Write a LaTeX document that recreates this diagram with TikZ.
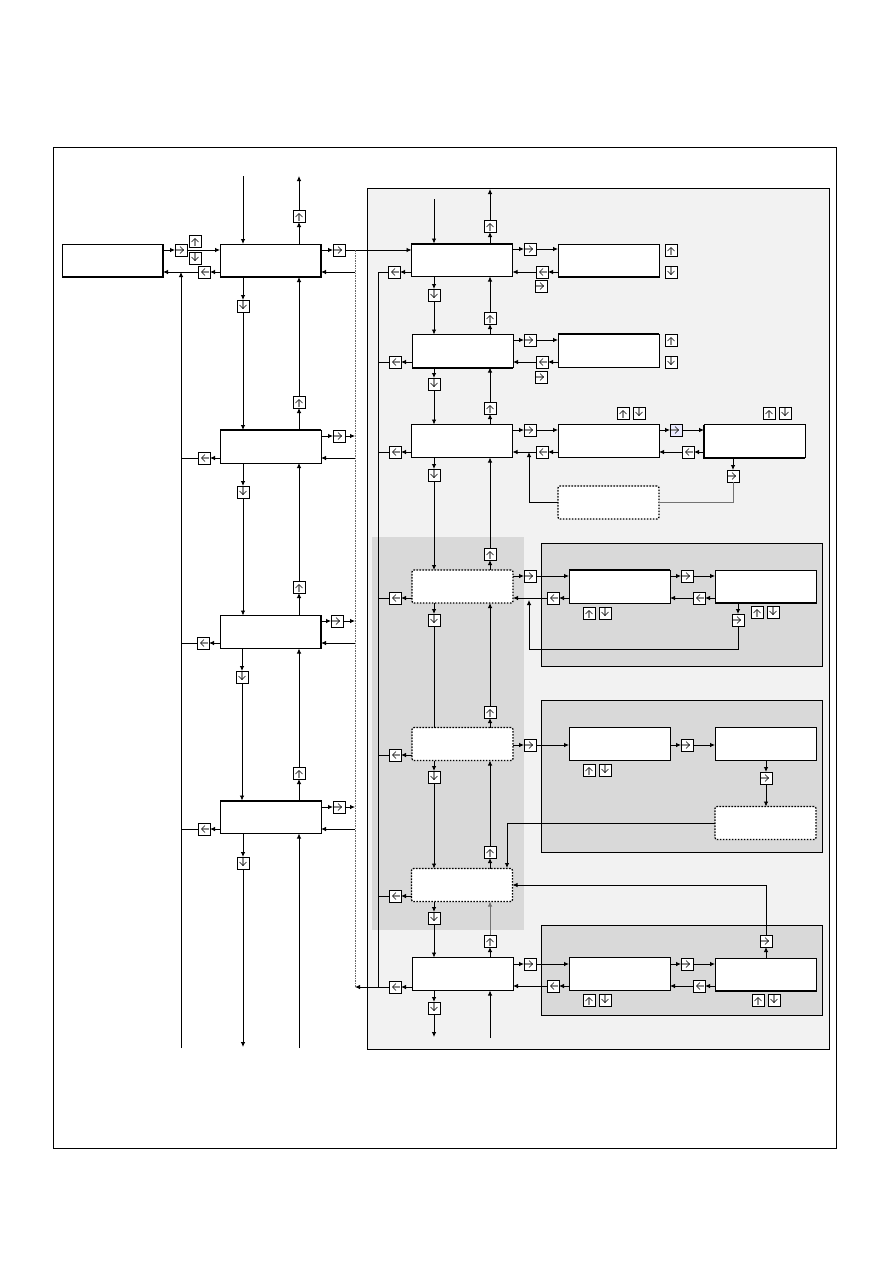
\documentclass[tikz,border=0pt]{standalone}
\usetikzlibrary{arrows.meta}
\begin{document}
\begin{tikzpicture}[x=1pt,y=-1pt,
 box/.style={draw, fill=white, line width=0.8pt, minimum width=101pt, minimum height=33pt, inner sep=0pt, outer sep=0pt},
 dbox/.style={box, dash pattern=on 1.6pt off 1.4pt, rounded corners=2pt, line width=1.3pt},
 key/.style={draw, fill=white, line width=0.7pt, minimum size=12pt, inner sep=0pt, outer sep=0pt},
 kr/.style={key, path picture={
   \draw[black!45,line width=1.1pt] ([xshift=-5pt]path picture bounding box.center) -- ([xshift=2.5pt]path picture bounding box.center);
   \draw[line width=0.6pt] ([xshift=-1pt,yshift=3.5pt]path picture bounding box.center) -- ([xshift=2.5pt]path picture bounding box.center) -- ([xshift=-1pt,yshift=-3.5pt]path picture bounding box.center);}},
 kl/.style={key, path picture={
   \draw[black!45,line width=1.1pt] ([xshift=5pt]path picture bounding box.center) -- ([xshift=-2.5pt]path picture bounding box.center);
   \draw[line width=0.6pt] ([xshift=1pt,yshift=3.5pt]path picture bounding box.center) -- ([xshift=-2.5pt]path picture bounding box.center) -- ([xshift=1pt,yshift=-3.5pt]path picture bounding box.center);}},
 ku/.style={key, path picture={
   \draw[black!45,line width=1.1pt] ([yshift=-5pt]path picture bounding box.center) -- ([yshift=2.5pt]path picture bounding box.center);
   \draw[line width=0.6pt] ([xshift=-3.5pt,yshift=-1pt]path picture bounding box.center) -- ([yshift=2.5pt]path picture bounding box.center) -- ([xshift=3.5pt,yshift=-1pt]path picture bounding box.center);}},
 kd/.style={key, path picture={
   \draw[black!45,line width=1.1pt] ([yshift=5pt]path picture bounding box.center) -- ([yshift=-2.5pt]path picture bounding box.center);
   \draw[line width=0.6pt] ([xshift=-3.5pt,yshift=1pt]path picture bounding box.center) -- ([yshift=-2.5pt]path picture bounding box.center) -- ([xshift=3.5pt,yshift=1pt]path picture bounding box.center);}},
 ar/.style={line width=0.8pt, -{Latex[length=5pt,width=4.5pt]}},
 ln/.style={line width=0.8pt},
 thk/.style={line width=2pt},
 panel/.style={draw, line width=0.8pt, fill=black!5},
 subpanel/.style={draw, line width=0.8pt, fill=black!15}
]
\useasboundingbox (0,0) rectangle (893,1263);
% frames and panels
\draw[line width=1pt] (53,147) rectangle (836,1148);
\draw[panel] (367,188) rectangle (829,1049);
\fill[black!15] (372,537) rectangle (524,930);
\draw[subpanel] (541,543) rectangle (822,666);
\draw[subpanel] (541,700) rectangle (822,852);
\draw[subpanel] (541,925) rectangle (822,1015);

% coordinates
\coordinate (topIn) at (243,176);
\coordinate (topOut) at (299,176);
\coordinate (botOut) at (243,1047);
\coordinate (botIn) at (299,1048);
\coordinate (busLb) at (181,1048);
\coordinate (busDt) at (355,250);
\coordinate (busDb) at (355,987);
\coordinate (busRt) at (378,272);
\coordinate (busRb) at (378,987);
\coordinate (rTopIn) at (434,199);
\coordinate (rTopOut) at (490,189);
\coordinate (rBotOut) at (434,1037);
\coordinate (rBotIn) at (490,1038);
\coordinate (j3) at (529,452);
\coordinate (j4b) at (529,649);
\coordinate (j4) at (529,598);
\coordinate (j5) at (507,868);

% boxes
\node[box] (A) at (112.5,260.5) {};
\node[box] (B) at (270.5,260.5) {};
\node[box] (C) at (270.5,446.5) {};
\node[box] (D) at (270.5,632) {};
\node[box] (E) at (270.5,817) {};
\node[box] (R1) at (462,260) {};
\node[box] (R1b) at (608.5,260.5) {};
\node[box] (R2) at (462.5,351) {};
\node[box] (R2b) at (608.5,350.5) {};
\node[box] (R3) at (462,441) {};
\node[box] (R3b) at (608.5,441) {};
\node[box] (R3c) at (754.5,441) {};
\node[dbox] (Dt) at (608.5,502.5) {};
\node[dbox] (S1) at (462.5,586.5) {};
\node[box] (S1b) at (619.5,586.5) {};
\node[box] (S1c) at (765.5,586.5) {};
\node[dbox] (S2) at (462.5,744) {};
\node[box] (S2b) at (619.5,744) {};
\node[box] (S2c) at (765.5,744) {};
\node[dbox] (S2d) at (765.5,823) {};
\node[dbox] (S3) at (462,885) {};
\node[box] (R4) at (462.5,974) {};
\node[box] (R4b) at (619.5,974) {};
\node[box] (R4c) at (765.5,974.5) {};

% thick edges
\draw[thk] (A.south west) -- (A.south east) -- (A.north east);
\draw[thk] (B.south west) -- (B.south east) -- (B.north east);
\draw[thk] (C.north west) -- (C.north east);
\draw[thk] (D.north east) -- (D.south east);
\draw[thk] (E.north west) -- (E.north east);
\draw[thk] (R1.north west) -- (R1.north east);
\draw[thk] (R1b.south west) -- (R1b.south east);
\draw[thk] (R2.south west) -- (R2.south east);
\draw[thk] (R2b.north west) -- (R2b.north east);
\draw[thk] (R3c.north west) -- (R3c.south west) -- (R3c.south east);
\draw[thk] (S1b.north west) -- (S1b.north east);
\draw[thk] (S1c.south west) -- (S1c.south east);
\draw[thk] (R4c.south west) -- (R4c.south east);

% keys left
\node[kr] (kA1) at (181,250) {};
\node[ku] (kAu) at (195,241) {};
\node[kd] (kAd) at (195,258) {};
\node[kl] (kB2) at (204,272) {};
\node[ku] (kBt) at (299,216) {};
\node[kd] (kBd) at (243,306) {};
\node[kr] (kBr) at (339,250) {};
\node[ku] (kCu) at (299,402) {};
\node[kr] (kCr) at (339,436) {};
\node[kl] (kCl) at (204,458) {};
\node[kd] (kCd) at (243,492) {};
\node[ku] (kDu) at (299,587) {};
\node[kr] (kDr) at (337,621) {};
\node[kl] (kDl) at (203,643) {};
\node[kd] (kDd) at (242,677) {};
\node[ku] (kEu) at (299,773) {};
\node[kr] (kEr) at (339,807) {};
\node[kl] (kEl) at (204,829) {};
\node[kd] (kEd) at (243,863) {};

% keys right
\node[ku] (k1t) at (490,226) {};
\node[kr] (k1r) at (530,249) {};
\node[kl] (k1l) at (542,272) {};
\node[kr] (k1x) at (541,286) {};
\node[ku] (k1u) at (671,250) {};
\node[kd] (k1d) at (671,272) {};
\node[kl] (k1L) at (394,272) {};
\node[kd] (k1D) at (434,295) {};
\node[ku] (k2t) at (490,318) {};
\node[kr] (k2r) at (530,340) {};
\node[kl] (k2l) at (542,362) {};
\node[kr] (k2x) at (541,377) {};
\node[ku] (k2u) at (671,340) {};
\node[kd] (k2d) at (671,362) {};
\node[kl] (k2L) at (395,362) {};
\node[kd] (k2D) at (434,384) {};
\node[ku] (k3t) at (490,408) {};
\node[kr] (k3r) at (530,430) {};
\node[kl] (k3l) at (542,452) {};
\node[kr, fill=blue!8] (k3r2) at (676,430) {};
\node[kl] (k3l2) at (688,452) {};
\node[ku] (k3a) at (623,413) {};
\node[kd] (k3b) at (639,413) {};
\node[ku] (k3c) at (769,413) {};
\node[kd] (k3e) at (785,413) {};
\node[kr] (k3x) at (733,476) {};
\node[kl] (k3L) at (395,452) {};
\node[kd] (k3D) at (434,475) {};
\node[ku] (ks1t) at (490,554) {};
\node[kr] (ks1r) at (530,576) {};
\node[kl] (ks1l) at (553,598) {};
\node[kr] (ks1r2) at (687,576) {};
\node[kl] (ks1l2) at (699,598) {};
\node[ku] (ks1a) at (589,613) {};
\node[kd] (ks1b) at (605,613) {};
\node[ku] (ks1c) at (757,612) {};
\node[kd] (ks1e) at (773,612) {};
\node[kr] (ks1x) at (738,620) {};
\node[kl] (ks1L) at (395,598) {};
\node[kd] (ks1D) at (434,620) {};
\node[ku] (ks2t) at (490,712) {};
\node[kr] (ks2r) at (530,745) {};
\node[kr] (ks2r2) at (687,745) {};
\node[kr] (ks2x) at (766,778) {};
\node[ku] (ks2a) at (589,770) {};
\node[kd] (ks2b) at (605,770) {};
\node[kl] (ks2L) at (395,755) {};
\node[kd] (ks2D) at (434,777) {};
\node[ku] (ks3t) at (490,852) {};
\node[kl] (ks3L) at (395,896) {};
\node[kd] (ks3D) at (434,918) {};
\node[ku] (k4t) at (490,941) {};
\node[kr] (k4r) at (530,964) {};
\node[kr] (k4r2) at (687,964) {};
\node[kl] (k4l2) at (699,986) {};
\node[kl] (k4l) at (553,986) {};
\node[kr] (k4x) at (766,941) {};
\node[ku] (k4a) at (589,1000) {};
\node[kd] (k4b) at (605,1000) {};
\node[ku] (k4c) at (758,1000) {};
\node[kd] (k4e) at (774,1000) {};
\node[kl] (k4L) at (395,987) {};
\node[kd] (k4D) at (434,1008) {};

% ---- left connectors
\draw[ar] (A.east |- kA1) -- (kA1);
\draw[ar] (kA1) -- (B.west |- kA1);
\draw[ar] (B.west |- kB2) -- (kB2);
\draw[ar] (kB2) -- (A.east |- kB2);
\draw[ar] (busLb) -- (busLb |- kB2);
\draw[ar] (topIn) -- (B.north -| topIn);
\draw[ar] (B.north -| kBt) -- (kBt);
\draw[ar] (kBt) -- (topOut);
\draw[ar] (B.east |- kBr) -- (kBr);
\draw[ar] (kBr) -- (R1.west |- kBr);
\draw[black!60, line width=0.7pt, dash pattern=on 1.5pt off 1pt] (busDt) -- (busDb);
\draw[ar] (busDt |- kB2) -- (B.east |- kB2);
\draw[ar] (B.south -| kBd) -- (kBd);
\draw[ar] (kBd) -- (C.north -| kBd);
\draw[ar] (C.north -| kCu) -- (kCu);
\draw[ar] (kCu) -- (B.south -| kCu);
% C
\draw[ar] (C.east |- kCr) -- (kCr);
\draw[ar] (kCr) -- (busDt |- kCr);
\draw[ar] (busDt |- kCl) -- (C.east |- kCl);
\draw[ar] (C.west |- kCl) -- (kCl);
\draw[ln] (kCl) -- (busLb |- kCl);
\draw[ar] (C.south -| kCd) -- (kCd);
\draw[ar] (kCd) -- (D.north -| kCd);
\draw[ar] (D.north -| kDu) -- (kDu);
\draw[ar] (kDu) -- (C.south -| kDu);
% D
\draw[ar] (D.east |- kDr) -- (kDr);
\draw[ar] (kDr) -- (busDt |- kDr);
\draw[ar] (busDt |- kDl) -- (D.east |- kDl);
\draw[ar] (D.west |- kDl) -- (kDl);
\draw[ln] (kDl) -- (busLb |- kDl);
\draw[ar] (D.south -| kDd) -- (kDd);
\draw[ar] (kDd) -- (E.north -| kDd);
\draw[ar] (E.north -| kEu) -- (kEu);
\draw[ar] (kEu) -- (D.south -| kEu);
% E
\draw[ar] (E.east |- kEr) -- (kEr);
\draw[ar] (kEr) -- (busDt |- kEr);
\draw[ar] (busDt |- kEl) -- (E.east |- kEl);
\draw[ar] (E.west |- kEl) -- (kEl);
\draw[ln] (kEl) -- (busLb |- kEl);
\draw[ar] (E.south -| kEd) -- (kEd);
\draw[ar] (kEd) -- (botOut);
\draw[ar] (botIn) -- (E.south -| botIn);

% ---- right connectors
\draw[ln] (busRt) -- (busRb);
\draw[ar] (rTopIn) -- (R1.north -| rTopIn);
\draw[ar] (R1.north -| k1t) -- (k1t);
\draw[ar] (k1t) -- (rTopOut);
\draw[ar] (R1.east |- k1r) -- (k1r);
\draw[ar] (k1r) -- (R1b.west |- k1r);
\draw[ar] (R1b.west |- k1l) -- (k1l);
\draw[ar] (k1l) -- (R1.east |- k1l);
\draw[ar] (R1.west |- k1L) -- (k1L);
\draw[ln] (k1L) -- (busRt);
\draw[ar] (R1.south -| k1D) -- (k1D);
\draw[ar] (k1D) -- (R2.north -| k1D);
\draw[ar] (R2.north -| k2t) -- (k2t);
\draw[ar] (k2t) -- (R1.south -| k2t);
% R2
\draw[ar] (R2.east |- k2r) -- (k2r);
\draw[ar] (k2r) -- (R2b.west |- k2r);
\draw[ar] (R2b.west |- k2l) -- (k2l);
\draw[ar] (k2l) -- (R2.east |- k2l);
\draw[ar] (R2.west |- k2L) -- (k2L);
\draw[ln] (k2L) -- (busRt |- k2L);
\draw[ar] (R2.south -| k2D) -- (k2D);
\draw[ar] (k2D) -- (R3.north -| k2D);
\draw[ar] (R3.north -| k3t) -- (k3t);
\draw[ar] (k3t) -- (R2.south -| k3t);
% R3
\draw[ar] (R3.east |- k3r) -- (k3r);
\draw[ar] (k3r) -- (R3b.west |- k3r);
\draw[ar] (R3b.west |- k3l) -- (k3l);
\draw[ar] (k3l) -- (R3.east |- k3l);
\draw[ar] (R3b.east |- k3r2) -- (k3r2);
\draw[ar] (k3r2) -- (R3c.west |- k3r2);
\draw[ar] (R3c.west |- k3l2) -- (k3l2);
\draw[ar] (k3l2) -- (R3b.east |- k3l2);
\draw[ar] (R3c.south -| k3x) -- (k3x);
\draw[ln, black!55] (k3x) |- (Dt.east);
\draw[ar] (Dt.west) -| (j3);
\draw[ar] (R3.west |- k3L) -- (k3L);
\draw[ln] (k3L) -- (busRt |- k3L);
\draw[ar] (R3.south -| k3D) -- (k3D);
\draw[ar] (k3D) -- (S1.north -| k3D);
\draw[ar] (S1.north -| ks1t) -- (ks1t);
\draw[ar] (ks1t) -- (R3.south -| ks1t);
% S1
\draw[ar] (S1.east |- ks1r) -- (ks1r);
\draw[ar] (ks1r) -- (S1b.west |- ks1r);
\draw[ar] (S1b.west |- ks1l) -- (ks1l);
\draw[ar] (ks1l) -- (S1.east |- ks1l);
\draw[ar] (S1b.east |- ks1r2) -- (ks1r2);
\draw[ar] (ks1r2) -- (S1c.west |- ks1r2);
\draw[ar] (S1c.west |- ks1l2) -- (ks1l2);
\draw[ar] (ks1l2) -- (S1b.east |- ks1l2);
\draw[ar] (S1c.south -| ks1x) -- (ks1x);
\draw[ar] (ks1x) |- (j4b) -- ([yshift=-2pt]j4);
\draw[ar] (S1.west |- ks1L) -- (ks1L);
\draw[ln] (ks1L) -- (busRt |- ks1L);
\draw[ar] (S1.south -| ks1D) -- (ks1D);
\draw[ln] (ks1D) -- (S2.north -| ks1D);
\draw[ar] (S2.north -| ks2t) -- (ks2t);
\draw[ar] (ks2t) -- (S1.south -| ks2t);
% S2
\draw[ar] (S2.east |- ks2r) -- (ks2r);
\draw[ar] (ks2r) -- (S2b.west |- ks2r);
\draw[ar] (S2b.east |- ks2r2) -- (ks2r2);
\draw[ar] (ks2r2) -- (S2c.west |- ks2r2);
\draw[ar] (S2c.south -| ks2x) -- (ks2x);
\draw[ar] (ks2x) -- (S2d.north -| ks2x);
\draw[ar] (S2d.west) -| (j5);
\draw[ar] (S2.west |- ks2L) -- (ks2L);
\draw[ln] (ks2L) -- (busRt |- ks2L);
\draw[ar] (S2.south -| ks2D) -- (ks2D);
\draw[ar] (ks2D) -- (S3.north -| ks2D);
\draw[ar] (S3.north -| ks3t) -- (ks3t);
\draw[ar] (ks3t) -- (S2.south -| ks3t);
% S3
\draw[ar] (S3.west |- ks3L) -- (ks3L);
\draw[ln] (ks3L) -- (busRt |- ks3L);
\draw[ar] (S3.south -| ks3D) -- (ks3D);
\draw[ar] (ks3D) -- (R4.north -| ks3D);
\draw[ar] (R4.north -| k4t) -- (k4t);
\draw[ar, black!55] (k4t) -- (S3.south -| k4t);
% R4
\draw[ar] (R4.east |- k4r) -- (k4r);
\draw[ar] (k4r) -- (R4b.west |- k4r);
\draw[ar] (R4b.east |- k4r2) -- (k4r2);
\draw[ar] (k4r2) -- (R4c.west |- k4r2);
\draw[ar] (R4c.west |- k4l2) -- (k4l2);
\draw[ar] (k4l2) -- (R4b.east |- k4l2);
\draw[ar] (R4b.west |- k4l) -- (k4l);
\draw[ar] (k4l) -- (R4.east |- k4l);
\draw[ar] (R4c.north -| k4x) -- (k4x);
\draw[ar] (k4x) |- (S3.east);
\draw[ar] (R4.west |- k4L) -- (k4L);
\draw[ar] (k4L) -- (busDb);
\draw[ar] (R4.south -| k4D) -- (k4D);
\draw[ar] (k4D) -- (rBotOut);
\draw[ar] (rBotIn) -- (R4.south -| rBotIn);
\end{tikzpicture}
\end{document}
